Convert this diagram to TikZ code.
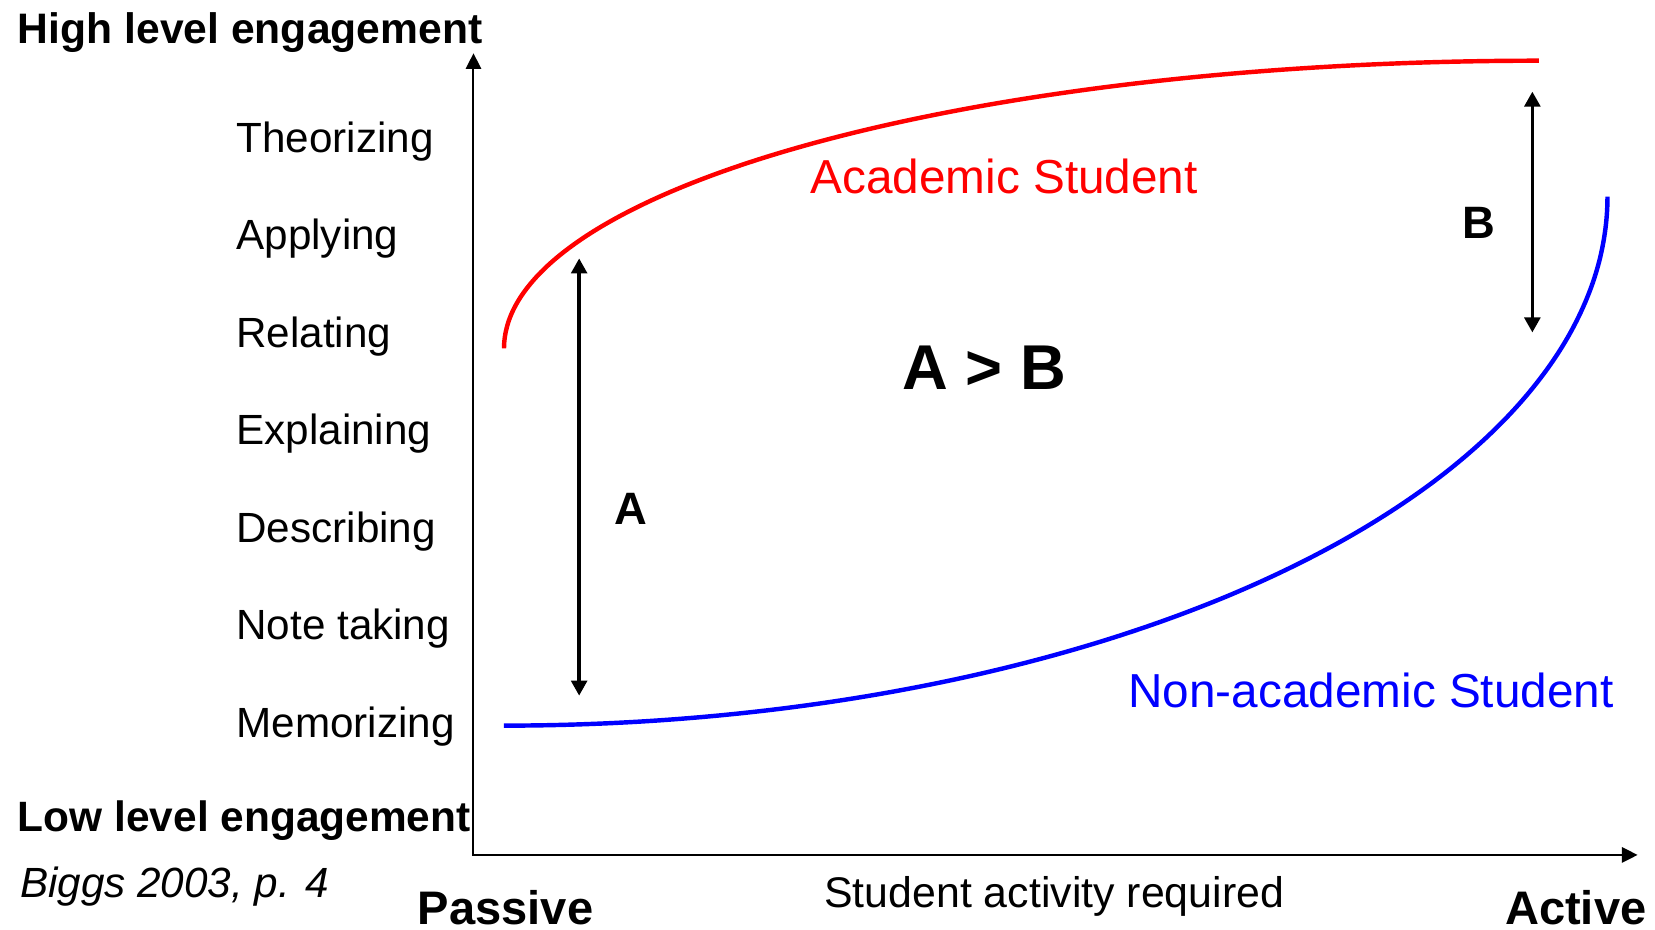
\documentclass[tikz,border=0pt]{standalone}
\usepackage{fontspec}
\setmainfont{Liberation Sans}
\usetikzlibrary{arrows.meta}
\definecolor{acred}{RGB}{255,0,0}
\definecolor{nablue}{RGB}{0,0,255}
\begin{document}
\begin{tikzpicture}[x=0.5pt,y=-0.5pt,
  lab/.style={anchor=base west, inner sep=0pt, outer sep=0pt},
  headtxt/.style={lab, font=\bfseries\fontsize{20.2pt}{24pt}\selectfont},
  lowtxt/.style={lab, font=\bfseries\fontsize{20.1pt}{24pt}\selectfont},
  leveltxt/.style={lab, font=\fontsize{20pt}{24pt}\selectfont},
  citetxt/.style={lab, font=\itshape\fontsize{20pt}{24pt}\selectfont},
  endtxt/.style={lab, font=\bfseries\fontsize{22.3pt}{26pt}\selectfont},
  axtxt/.style={lab, font=\fontsize{20.3pt}{24pt}\selectfont},
  curvetxt/.style={lab, font=\fontsize{22.6pt}{26pt}\selectfont},
  bigtxt/.style={lab, font=\bfseries\fontsize{30pt}{34pt}\selectfont},
  gaptxt/.style={lab, font=\bfseries\fontsize{21.5pt}{26pt}\selectfont},
  axisline/.style={line width=0.95pt, line join=miter,
    {Triangle[width=7.25pt,length=7.4pt]}-{Triangle[width=7.25pt,length=7.4pt]}},
  gaparrow/.style={line width=1.7pt,
    {Triangle[width=7.4pt,length=7.1pt]}-{Triangle[width=7.4pt,length=7.1pt]}},
  curve/.style={line width=2.1pt}
]
\useasboundingbox[fill=white] (0,0) rectangle (1568,881);

% axes
\coordinate (ytip) at (448.6,50.5);
\coordinate (origin) at (448.6,810);
\coordinate (xtip) at (1551.5,810);
\draw[axisline] (ytip) -- (origin) -- (xtip);

% curves (quarter ellipses)
\draw[curve, acred] plot[domain=180:90, samples=80, smooth]
  ({1458+980.5*cos(\x)}, {330-272.5*sin(\x)});
\draw[curve, nablue] plot[domain=0:90, samples=80, smooth]
  ({477.4+1045.6*sin(\x)}, {186.3+501.2*cos(\x)});

% gap arrows
\coordinate (atop) at (548.7,244.8);
\coordinate (abot) at (548.7,659.1);
\coordinate (btop) at (1451.8,86.8);
\coordinate (bbot) at (1451.8,315);
\draw[gaparrow] (atop) -- (abot);
\draw[gaparrow] (btop) -- (bbot);

% texts
\node[headtxt] (high) at (17,41.5) {High level engagement};
\node[leveltxt] (l1) at (224,144.5) {Theorizing};
\node[leveltxt] (l2) at (224,236.8) {Applying};
\node[leveltxt] (l3) at (224,329.2) {Relating};
\node[leveltxt] (l4) at (224,421.5) {Explaining};
\node[leveltxt] (l5) at (224,513.8) {Describing};
\node[leveltxt] (l6) at (224,606.2) {Note taking};
\node[leveltxt] (l7) at (224,698.5) {Memorizing};
\node[lowtxt] (low) at (17,788) {Low level engagement};
\node[citetxt] (cite) at (19,850) {Biggs 2003, p. 4};
\node[endtxt] (passive) at (396,876) {Passive};
\node[endtxt] (active) at (1426,876) {Active};
\node[axtxt] (xlabel) at (781,859.5) {Student activity required};
\node[curvetxt, text=acred] (acad) at (768,183.1) {Academic Student};
\node[curvetxt, text=nablue] (nonacad) at (1069,670.1) {Non-academic Student};
\node[bigtxt] (cmp) at (855,368.9) {A > B};
\node[gaptxt] (la) at (582,497.4) {A};
\node[gaptxt] (lb) at (1385.5,225.8) {B};
\end{tikzpicture}
\end{document}
